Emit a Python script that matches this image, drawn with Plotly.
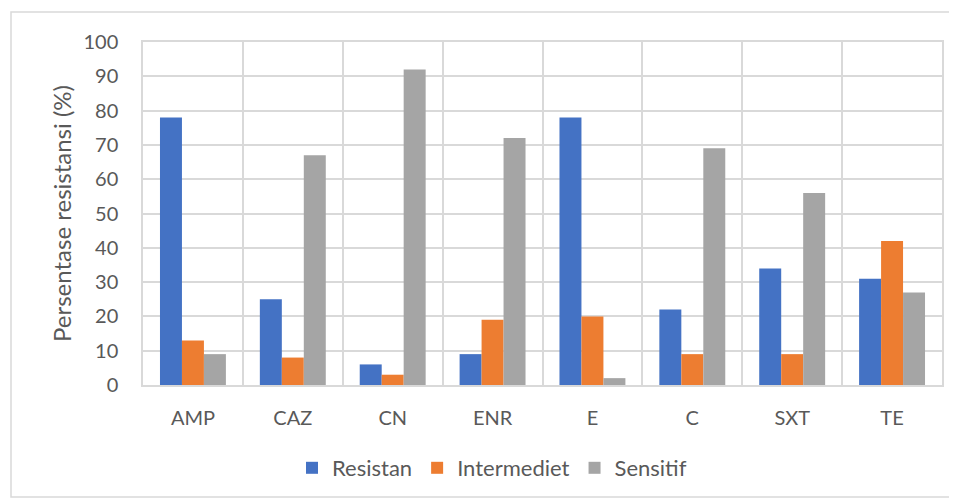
import plotly.graph_objects as go

categories = ["AMP", "CAZ", "CN", "ENR", "E", "C", "SXT", "TE"]
resistan = [78, 25, 6, 9, 78, 22, 34, 31]
intermediet = [13, 8, 3, 19, 20, 9, 9, 42]
sensitif = [9, 67, 92, 72, 2, 69, 56, 27]
y_ticks = [0, 10, 20, 30, 40, 50, 60, 70, 80, 90, 100]

FONT = "Lato, 'Open Sans', sans-serif"
TXT = "#595959"

fig = go.Figure()
for name, vals, col in [("Resistan", resistan, "#4472C4"),
                        ("Intermediet", intermediet, "#ED7D31"),
                        ("Sensitif", sensitif, "#A5A5A5")]:
    fig.add_trace(go.Bar(x=categories, y=vals, name=name, marker_color=col,
                         marker_line_width=0))

OFF = 8  # page body offset
W, H = 957, 498
L, R, T, B = 143 - OFF, 23, 42 - OFF, 498 - (385 - OFF)
pw, ph = W - L - R, H - T - B

def px(x):
    return (x - OFF - L) / pw

def py(y):
    return (H - B - (y - OFF)) / ph

fig.add_shape(type="rect", xref="paper", yref="paper",
              x0=px(11), x1=px(954), y0=py(497), y1=py(12),
              line=dict(color="#D9D9D9", width=1.5), layer="below")

fig.update_layout(
    width=W, height=H,
    margin=dict(l=L, r=R, t=T, b=B, autoexpand=False),
    paper_bgcolor="white", plot_bgcolor="white",
    barmode="group", bargap=0.34, bargroupgap=0,
    font=dict(family=FONT, color=TXT, size=20),
    legend=dict(orientation="h", x=px(492), xanchor="center", y=py(468), yanchor="middle",
                font=dict(size=22, color=TXT), itemwidth=30, traceorder="normal"),
    xaxis=dict(type="category", tickson="boundaries", showgrid=True,
               gridcolor="#D9D9D9", gridwidth=1.5, showline=True,
               linecolor="#D9D9D9", linewidth=1.5, ticks="",
               ticklabelstandoff=14, mirror=True,
               tickfont=dict(size=20, color=TXT)),
    yaxis=dict(range=[0, 100], tickvals=y_ticks, showgrid=True,
               gridcolor="#D9D9D9", gridwidth=1.5, zeroline=False,
               showline=True, linecolor="#D9D9D9", linewidth=1.5, mirror=True,
               ticks="outside", ticklen=19, tickcolor="rgba(0,0,0,0)",
               tickfont=dict(size=20, color=TXT),
               title=dict(text="Persentase resistansi (%)", standoff=5,
                          font=dict(size=24, color=TXT))),
)

fig.write_html("out.html")
